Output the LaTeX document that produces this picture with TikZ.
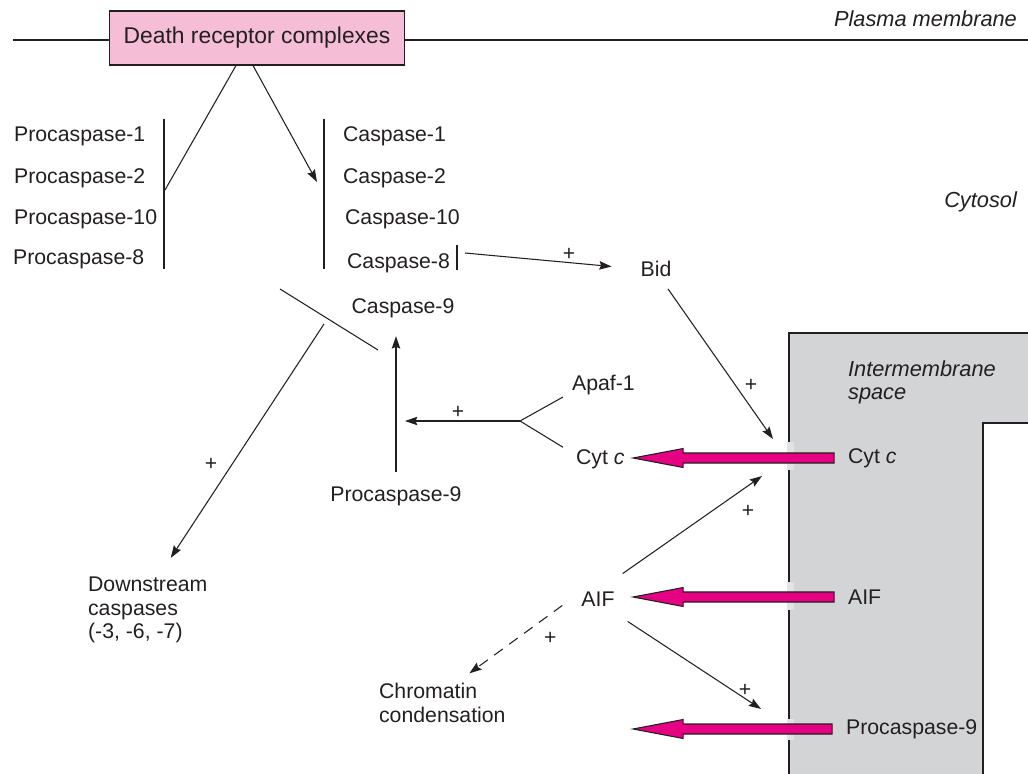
\documentclass[tikz,border=0pt]{standalone}
\usepackage{fontspec}
\setmainfont{Liberation Sans}
\usetikzlibrary{arrows.meta,calc}
\definecolor{boxpink}{RGB}{246,190,214}
\definecolor{relmagenta}{RGB}{230,0,130}
\definecolor{imsgray}{RGB}{211,212,214}
\definecolor{inkdark}{RGB}{35,31,32}

% fat release arrow from a mitochondrial protein to the gate column
\newcommand{\release}[1]{%
  \draw[relarrow] let \p1=(#1.west), \p2=(gate) in
    (\x1-6.8pt,\y1+2.85pt) -- (\x2+28.5pt,\y1+2.85pt) -- (\x2+28.5pt,\y1+5.4pt)
    -- (\x2,\y1) -- (\x2+28.5pt,\y1-5.4pt) -- (\x2+28.5pt,\y1-2.85pt)
    -- (\x1-6.8pt,\y1-2.85pt) -- cycle;}

\begin{document}
\begin{tikzpicture}[x=0.02cm, y=-0.02cm, color=inkdark,
    protein/.style={font=\fontsize{12.1}{13.4}\selectfont, inner sep=1pt},
    region/.style={font=\fontsize{12.4}{13}\selectfont\itshape, inner sep=1pt},
    receptor/.style={rectangle, draw=inkdark, fill=boxpink, line width=0.6pt,
        minimum width=5.9cm, minimum height=1.08cm, font=\fontsize{13}{14}\selectfont},
    sign/.style={font=\fontsize{12}{12}\selectfont, inner sep=1pt},
    link/.style={line width=0.6pt},
    arrow/.style={-{Stealth[length=7pt,width=4.8pt,inset=1pt]}, line width=0.6pt},
    relarrow/.style={draw=inkdark, fill=relmagenta, line width=0.6pt}
]

\useasboundingbox (0,0) rectangle (1028,774);

% mitochondrion
\fill[imsgray] (789,774) -- (789,333) -- (1028,333) -- (1028,423) -- (983,423) -- (983,774) -- cycle;
\draw[link] (789,774) -- (789,333) -- (1028,333);
\draw[link] (1028,423) -- (983,423) -- (983,774);
\fill[imsgray!65!white] (787,442) rectangle (794,470);
\fill[imsgray!65!white] (787,582) rectangle (794,610);
\fill[imsgray!65!white] (787,719) rectangle (794,740);

\node[receptor] (drc) at (257,38) {Death receptor complexes};
\coordinate (pmL) at (13,40);
\coordinate (pmR) at (1028,40);
\draw[link] (pmL) -- (pmL -| drc.west);
\draw[link] (pmR -| drc.east) -- (pmR);

\node[region, anchor=east] (pm) at (1019,19) {Plasma membrane};
\node[region, anchor=east] (cyto) at (1019,202) {Cytosol};
\node[region, anchor=west, align=left] (ims) at (846,382) {Intermembrane\\space};

\node[protein, anchor=west] (pc1) at (12,136) {Procaspase-1};
\node[protein, anchor=west] (pc2) at (12,178) {Procaspase-2};
\node[protein, anchor=west] (pc10) at (12,219) {Procaspase-10};
\node[protein, anchor=west] (pc8) at (11,259) {Procaspase-8};

\node[protein, anchor=west] (c1) at (341,136) {Caspase-1};
\node[protein, anchor=west] (c2) at (341,178) {Caspase-2};
\node[protein, anchor=west] (c10) at (343,219) {Caspase-10};
\node[protein, anchor=west] (c8) at (345,263) {Caspase-8};

\node[protein] (bid) at (656,269) {Bid};
\node[protein] (c9) at (403,308) {Caspase-9};
\node[protein] (p9) at (396,496) {Procaspase-9};
\node[protein, anchor=west] (apaf) at (570,385) {Apaf-1};
\node[protein, anchor=west] (cytc) at (574,459) {Cyt \textit{c}};
\node[protein] (aif) at (598,599) {AIF};
\node[protein, anchor=west, align=left] (dsc) at (86,610) {Downstream\\caspases\\(-3, -6, -7)};
\node[protein, anchor=west, align=left] (chrom) at (377,703) {Chromatin\\condensation};

\node[protein, anchor=west] (cytm) at (846,458) {Cyt \textit{c}};
\node[protein, anchor=west] (aifm) at (846,597) {AIF};
\node[protein, anchor=west] (p9m) at (844,729) {Procaspase-9};

% brackets
\draw[link] (164,119) -- (164,269);
\draw[link] (324,119) -- (324,269);
\draw[link] (457,245) -- (457,270);
\coordinate (pbar) at (165,190);
\coordinate (cbar) at (317,182);
\coordinate (c8bar) at (465,253);
\coordinate (jA) at (280,289);
\coordinate (jB) at (378,350);
\coordinate (jc) at (324,324);
\coordinate (fork) at (520,421);
\coordinate (relcyt) at (773,439);
\coordinate (relaif) at (762,476);
\coordinate (relp9) at (761,709);
\coordinate (gate) at (633,0);

\draw[link] ([xshift=-0.42cm]drc.south) -- (pbar);
\draw[arrow] ([xshift=-0.08cm]drc.south) -- (cbar);
\draw[arrow, shorten >=0.54cm] (c8bar) -- node[sign, above, pos=0.6] {+} (bid.west);
\draw[link] (jA) -- (jB);
\draw[arrow] (jc) -- node[sign, left=0.25cm, pos=0.6] {+} ([shift={(23,-17)}]dsc.north);
\draw[arrow, shorten <=0.25cm, shorten >=0.33cm] (p9.north) -- (p9.north |- c9.south);
\draw[link] ([xshift=-0.14cm]apaf.south west) -- (fork) -- ([xshift=-0.22cm]cytc.north west);
\draw[arrow, shorten >=0.18cm] (fork) -- node[sign, above] {+} (p9.north |- fork);
\draw[arrow] ([shift={(12,10)}]bid.south) -- node[sign, right=0.15cm, pos=0.64] {+} (relcyt);
\draw[arrow] ([shift={(6,-16)}]aif.north east) -- node[sign, below=0.35cm, pos=0.9] {+} (relaif);
\draw[arrow] ([shift={(11,13)}]aif.south east) -- node[sign, above, pos=0.88] {+} (relp9);
\draw[arrow, dash pattern=on 6pt off 4.5pt] ([shift={(-17,-3)}]aif.south west)
    -- node[sign, below=0.32cm, pos=0.13] {+} ([shift={(27,-8)}]chrom.north);

% release from the intermembrane space
\release{cytm}
\release{aifm}
\release{p9m}

\end{tikzpicture}
\end{document}
